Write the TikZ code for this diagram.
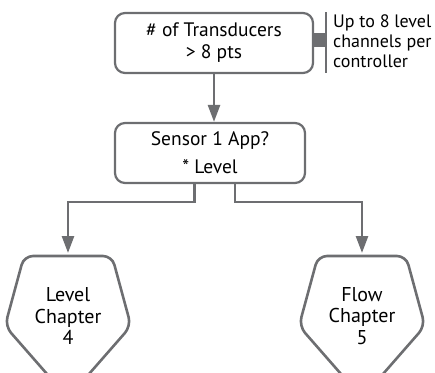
\documentclass[tikz,border=0pt]{standalone}
\usepackage{fontspec}
\setmainfont{PT Sans}
\usetikzlibrary{arrows.meta,calc}
\definecolor{ln}{HTML}{6D6E71}
\begin{document}
\begin{tikzpicture}[x=1pt,y=-1pt,
  box/.style={draw=ln, rounded corners=10pt, line width=2.2pt, minimum width=198pt, minimum height=60pt, align=center, inner sep=0pt},
  conn/.style={draw=ln, line width=2.6pt, -{Triangle[width=12pt,length=17pt]}},
  pent/.style={draw=ln, line width=2.6pt, rounded corners=9pt},
  txt/.style={font=\fontsize{20}{21.5}\selectfont, align=center, inner sep=0pt}]
\useasboundingbox (0,0) rectangle (435,372);
\node[box, font=\fontsize{19.5}{22}\selectfont] (top) at (214,43) {\# of Transducers\\ {>} 8 pts};
\node[box, minimum width=190pt, font=\fontsize{19.5}{28}\selectfont] (mid) at (210,153) {Sensor 1 App?\\ * Level};
% annotation
\coordinate (barA) at (313,33);
\coordinate (barB) at (326,47);
\fill[ln] (barA) rectangle (barB);
\coordinate (vA) at (326,12);
\coordinate (vB) at (326,73);
\draw[ln, line width=2.4pt] (vA) -- (vB);
\node[anchor=north west, align=left, inner sep=0pt, font=\fontsize{18}{20}\selectfont] (note) at (333,14) {Up to 8 level\\channels per\\controller};
% pentagons
\coordinate (Ltop) at (68,256);
\coordinate (Rtop) at (362,256);
\path[pent] (24,256) -- (112,256) -- (131,326) -- (68,398) -- (5,326) -- cycle;
\path[pent] (318,256) -- (406,256) -- (425,326) -- (362,398) -- (299,326) -- cycle;
\node[txt] (L) at (68,316) {Level\\Chapter\\4};
\node[txt] (R) at (362,316) {Flow\\Chapter\\5};
% connectors
\draw[conn] (top.south) -- (top.south |- mid.north);
\coordinate (ml) at ($(mid.south west)!0.42!(mid.south east)$);
\coordinate (mr) at ($(mid.south west)!0.63!(mid.south east)$);
\draw[conn, shorten >=3pt] (ml) -- ++(0,18) -| (Ltop);
\draw[conn, shorten >=3pt] (mr) -- ++(0,18) -| (Rtop);
\end{tikzpicture}
\end{document}
